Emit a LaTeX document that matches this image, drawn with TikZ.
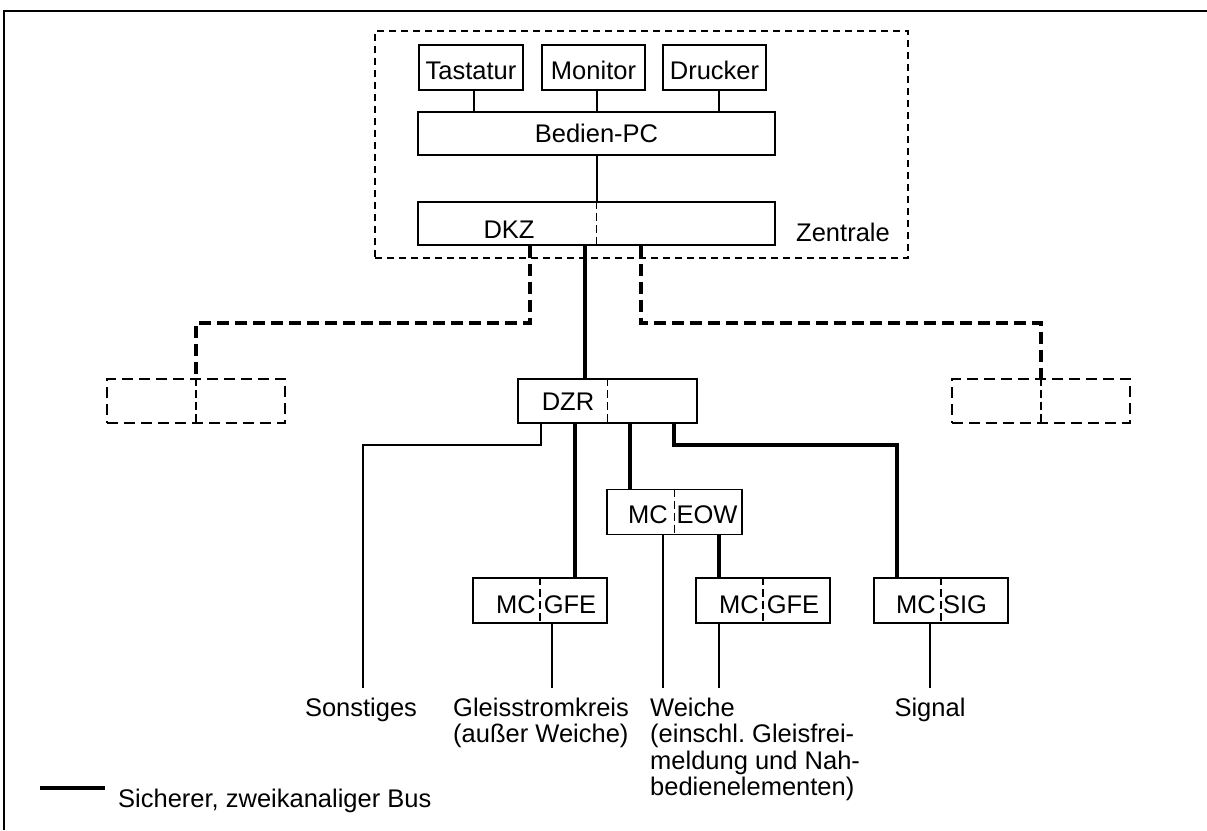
\documentclass[tikz,border=0pt]{standalone}
\usepackage{fontspec}
\setmainfont{Liberation Sans}
\frenchspacing
\begin{document}
\begin{tikzpicture}[x=1pt,y=-1pt,
  box/.style={draw,line width=1.9pt,inner sep=0pt,minimum height=44pt},
  ghost/.style={draw,line width=2.4pt,dash pattern=on 11pt off 6pt,inner sep=0pt,minimum width=178pt,minimum height=44pt},
  group/.style={draw,line width=1.3pt,dash pattern=on 7pt off 5pt,inner sep=0pt},
  divider/.style={line width=1.4pt,dash pattern=on 8pt off 4pt},
  wire/.style={line width=1.9pt},
  bus/.style={line width=4.4pt},
  busopt/.style={line width=4.4pt,dash pattern=on 12pt off 6pt},
  lbl/.style={inner sep=0pt,anchor=base,font=\fontsize{25.5}{27}\selectfont},
  lblw/.style={lbl,anchor=base west},
  frame/.style={line width=1.6pt}]
\useasboundingbox (0,0) rectangle (1207,830);

% outer frame
\draw[frame] (4,830) -- (4,11) -- (1207,11);

% central station
\node[group,minimum width=533pt,minimum height=227pt] (zen) at (641.5,144.5) {};
\node[box,minimum width=104pt,minimum height=45pt] (tast) at (471,67.5) {};
\node[box,minimum width=103pt,minimum height=45pt] (mon) at (593.5,67.5) {};
\node[box,minimum width=103pt,minimum height=45pt] (druck) at (714.5,67.5) {};
\node[box,minimum width=357pt,minimum height=43pt] (pc) at (596.5,133.5) {};
\node[box,minimum width=357pt,minimum height=43pt] (dkz) at (596.5,223.5) {};
\draw[divider] (dkz.north) -- (dkz.south);

\node[lbl] (ttast) at (471,79) {Tastatur};
\node[lbl] (tmon) at (593.5,79) {Monitor};
\node[lbl] (tdruck) at (714.5,79) {Drucker};
\node[lbl] (tpc) at (596.5,142) {Bedien-PC};
\node[lbl] (tdkz) at (509,238) {DKZ};
\node[lbl] (tzen) at (843,241) {Zentrale};

\draw[wire] ([xshift=3pt]tast.south) -- ([xshift=3pt]tast.south |- pc.north);
\draw[wire] ([xshift=3.5pt]mon.south) -- ([xshift=3.5pt]mon.south |- pc.north);
\draw[wire] ([xshift=4.5pt]druck.south) -- ([xshift=4.5pt]druck.south |- pc.north);
\draw[wire] ([xshift=0.5pt]pc.south) -- ([xshift=0.5pt]dkz.north);

% regional level
\node[ghost] (lbox) at (196,401) {};
\draw[divider,line width=1.6pt] (lbox.north) -- (lbox.south);
\node[ghost] (rbox) at (1041,401) {};
\draw[divider,line width=1.6pt] (rbox.north) -- (rbox.south);
\node[box,minimum width=179pt] (dzr) at (607.5,401) {};
\draw[divider] (dzr.north) -- (dzr.south);
\node[lbl] (tdzr) at (568,410) {DZR};

\coordinate (lbend) at (196,323);
\coordinate (rbend) at (1041,323);
\draw[busopt] ([xshift=-66.5pt]dkz.south) |- (lbend) -- (lbox.north);
\draw[busopt] ([xshift=44.5pt]dkz.south) |- (rbend) -- (rbox.north);
\draw[bus] ([xshift=-11.5pt]dkz.south) -- ([xshift=-11.5pt]dkz.south |- dzr.north);

% field level
\node[box,minimum width=134pt,minimum height=45pt] (gfea) at (540,600.5) {};
\node[box,minimum width=135pt,minimum height=45pt] (eow) at (674.5,512) {};
\node[box,minimum width=134pt,minimum height=45pt] (gfeb) at (763,600.5) {};
\node[box,minimum width=134pt,minimum height=45pt] (sig) at (941,600.5) {};
\foreach \n in {gfea,eow,gfeb,sig}
  \draw[divider] (\n.north) -- (\n.south);

\node[lbl] (mca) at (516,613) {MC};
\node[lbl] (tgfea) at (570,613) {GFE};
\node[lbl] (mce) at (648,523) {MC};
\node[lbl] (teow) at (707,523) {EOW};
\node[lbl] (mcb) at (739,613) {MC};
\node[lbl] (tgfeb) at (793,613) {GFE};
\node[lbl] (mcs) at (916,613) {MC};
\node[lbl] (tsig) at (965,613) {SIG};

\coordinate (sbend) at (363,445);
\coordinate (send) at (363,688);
\coordinate (gbend) at (897,445);
\coordinate (gaend) at (552,688);
\coordinate (eend) at (663,688);
\coordinate (gbendb) at (719,688);
\coordinate (siend) at (930,688);

\draw[wire] ([xshift=-66.5pt]dzr.south) |- (sbend) -- (send);
\draw[bus] ([xshift=-32.5pt]dzr.south) -- ([xshift=-32.5pt]dzr.south |- gfea.north);
\draw[bus] ([xshift=22.5pt]dzr.south) -- ([xshift=22.5pt]dzr.south |- eow.north);
\draw[bus] ([xshift=66.5pt]dzr.south) |- (gbend) -- (gbend |- sig.north);
\draw[wire] ([xshift=12pt]gfea.south) -- (gaend);
\draw[wire] ([xshift=-11.5pt]eow.south) -- (eend);
\draw[bus] ([xshift=44.5pt]eow.south) -- ([xshift=44.5pt]eow.south |- gfeb.north);
\draw[wire] ([xshift=-44pt]gfeb.south) -- (gbendb);
\draw[wire] ([xshift=-11pt]sig.south) -- (siend);

% field element labels
\node[lbl] (tsonst) at (361,716) {Sonstiges};
\node[lblw] (tgla) at (453,716) {Gleisstromkreis};
\node[lblw] (tglb) at (453,742.5) {(außer Weiche)};
\node[lblw] (twa) at (650,716) {Weiche};
\node[lblw] (twb) at (650,742.5) {(einschl. Gleisfrei-};
\node[lblw] (twc) at (650,769) {meldung und Nah-};
\node[lblw] (twd) at (650,795.5) {bedienelementen)};
\node[lbl] (tsignal) at (930,716) {Signal};

% legend
\coordinate (lega) at (40,788);
\coordinate (legb) at (105,788);
\draw[bus] (lega) -- (legb);
\node[lblw] (tleg) at (118,807) {Sicherer, zweikanaliger Bus};
\end{tikzpicture}
\end{document}
